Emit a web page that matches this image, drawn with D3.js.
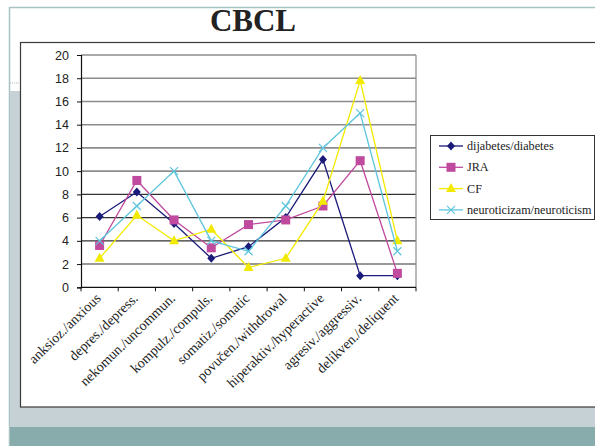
<!DOCTYPE html>
<html>
<head>
<meta charset="utf-8">
<script src="https://cdn.jsdelivr.net/npm/d3@7"></script>
<style>
  html, body { margin: 0; padding: 0; background: #fff; }
  svg { display: block; }
</style>
</head>
<body>
<svg id="chart" width="595" height="446"></svg>
<script>
// CBCL subscale scores by group
const categories = [
  "anksioz./anxious", "depres./depress.", "nekomun./uncommun.", "kompulz./compuls.",
  "somatiz./somatic", "povučen./withdrowal", "hiperaktiv./hyperactive",
  "agresiv./aggressiv.", "delikven./deliquent"
];
const diabetes    = [6.1, 8.2, 5.5, 2.5, 3.5, 6.0, 11.0, 1.0, 1.0];
const jra         = [3.6, 9.2, 5.8, 3.4, 5.4, 5.8, 7.0, 10.9, 1.2];
const cf          = [2.5, 6.2, 4.0, 5.0, 1.7, 2.5, 7.4, 17.8, 4.0];
const neuroticism = [4.0, 7.0, 10.0, 4.0, 3.1, 7.0, 12.0, 15.0, 3.1];
const yTicks = [0, 2, 4, 6, 8, 10, 12, 14, 16, 18, 20];
const seriesNames = ["dijabetes/diabetes", "JRA", "CF", "neuroticizam/neuroticism"];

const series = [
  { name: seriesNames[0], values: diabetes,    color: "#1a1a7a", marker: "diamond" },
  { name: seriesNames[1], values: jra,         color: "#c04a9e", marker: "square" },
  { name: seriesNames[2], values: cf,          color: "#f2ea00", marker: "triangle" },
  { name: seriesNames[3], values: neuroticism, color: "#5ec6dc", marker: "cross" }
];

const svg = d3.select("#chart");

// slide decoration
svg.append("line").attr("x1", 9.5).attr("x2", 595).attr("y1", 7.5).attr("y2", 7.5)
  .attr("stroke", "#a9c2c2").attr("stroke-width", 1.5);
svg.append("line").attr("x1", 9.5).attr("x2", 9.5).attr("y1", 7).attr("y2", 446)
  .attr("stroke", "#a9c2c2").attr("stroke-width", 1.5);
svg.append("line").attr("x1", 10).attr("x2", 20).attr("y1", 83).attr("y2", 83)
  .attr("stroke", "#9fbcbc").attr("stroke-dasharray", "1,1");
svg.append("rect").attr("x", 10).attr("y", 91).attr("width", 10).attr("height", 336).attr("fill", "#c6d1d6");
svg.append("rect").attr("x", 10).attr("y", 407).attr("width", 585).attr("height", 20).attr("fill", "#c6d1d6");
svg.append("rect").attr("x", 10).attr("y", 427).attr("width", 585).attr("height", 19).attr("fill", "#88abab");

// chart frame
svg.append("rect").attr("x", 20.5).attr("y", 42.5).attr("width", 600).attr("height", 364.5)
  .attr("fill", "#fff").attr("stroke", "#3a3a3a").attr("stroke-width", 1.2);

// title
svg.append("text").attr("x", 253).attr("y", 30.5).attr("text-anchor", "middle")
  .attr("font-family", "'Liberation Serif', 'Times New Roman', serif")
  .attr("font-weight", "bold").attr("font-size", 31).attr("fill", "#222")
  .text("CBCL");

const plot = { left: 81, right: 416, top: 55, bottom: 287.3 };

const x = d3.scaleBand().domain(categories).range([plot.left, plot.right]);
const y = d3.scaleLinear().domain([0, 20]).range([plot.bottom, plot.top]);
const cx = c => x(c) + x.bandwidth() / 2;

// gridlines
svg.append("g").selectAll("line").data(yTicks.filter(d => d > 0)).join("line")
  .attr("x1", plot.left).attr("x2", plot.right)
  .attr("y1", d => y(d)).attr("y2", d => y(d))
  .attr("stroke", d => d >= 10 ? "#8c8c8c" : "#333")
  .attr("stroke-width", d => d >= 10 ? 1.6 : 1.1);
// right edge of plot area
svg.append("line").attr("x1", plot.right).attr("x2", plot.right)
  .attr("y1", plot.top).attr("y2", plot.bottom).attr("stroke", "#8c8c8c").attr("stroke-width", 1.2);

// y axis
const yAxis = svg.append("g").attr("transform", `translate(${plot.left},0)`)
  .call(d3.axisLeft(y).tickValues(yTicks).tickSize(4).tickPadding(8));
yAxis.select(".domain").attr("stroke", "#111").attr("stroke-width", 1.2);
yAxis.selectAll(".tick line").attr("stroke", "#111");
yAxis.selectAll("text").attr("font-family", "'Liberation Sans', Arial, sans-serif")
  .attr("font-size", 12.5).attr("fill", "#222");

// x axis line with ticks at category boundaries
svg.append("line").attr("x1", plot.left).attr("x2", plot.right)
  .attr("y1", plot.bottom).attr("y2", plot.bottom).attr("stroke", "#111").attr("stroke-width", 1.2);
const boundaries = categories.map(c => x(c)).concat([x(categories[categories.length - 1]) + x.bandwidth()]);
svg.append("g").selectAll("line").data(boundaries).join("line")
  .attr("x1", d => d).attr("x2", d => d)
  .attr("y1", plot.bottom).attr("y2", plot.bottom + 4).attr("stroke", "#111");

// category labels, rotated
svg.append("g").selectAll("text").data(categories).join("text")
  .attr("transform", d => `translate(${cx(d) + 2},${plot.bottom + 12}) rotate(-44)`)
  .attr("text-anchor", "end")
  .attr("font-family", "'Liberation Serif', 'Times New Roman', serif")
  .attr("font-size", 14).attr("fill", "#222")
  .text(d => d);

// marker shapes
function drawMarker(g, type, color) {
  if (type === "diamond") {
    g.append("path").attr("d", "M0,-4.5L4,0L0,4.5L-4,0Z").attr("fill", color);
  } else if (type === "square") {
    g.append("rect").attr("x", -4.5).attr("y", -4.5).attr("width", 9).attr("height", 9).attr("fill", color);
  } else if (type === "triangle") {
    g.append("path").attr("d", "M0,-5.5L5,3.5L-5,3.5Z").attr("fill", color);
  } else {
    g.append("path").attr("d", "M-4,-4L4,4M-4,4L4,-4").attr("stroke", color).attr("stroke-width", 1.2);
  }
}

const line = d3.line().x(d => cx(d.c)).y(d => y(d.v));
series.forEach(s => {
  const pts = categories.map((c, i) => ({ c, v: s.values[i] }));
  svg.append("path").datum(pts).attr("d", line)
    .attr("fill", "none").attr("stroke", s.color).attr("stroke-width", 1.3);
  svg.append("g").selectAll("g").data(pts).join("g")
    .attr("transform", d => `translate(${cx(d.c)},${y(d.v)})`)
    .each(function () { drawMarker(d3.select(this), s.marker, s.color); });
});

// legend
const legend = svg.append("g");
legend.append("rect").attr("x", 430.5).attr("y", 135.5).attr("width", 164).attr("height", 84)
  .attr("fill", "#fff").attr("stroke", "#333").attr("stroke-width", 1);
series.forEach((s, i) => {
  const ly = 146 + i * 21.3;
  const g = legend.append("g");
  g.append("line").attr("x1", 439).attr("x2", 463).attr("y1", ly).attr("y2", ly)
    .attr("stroke", s.color).attr("stroke-width", 1.3);
  drawMarker(g.append("g").attr("transform", `translate(451,${ly})`), s.marker, s.color);
  g.append("text").attr("x", 467).attr("y", ly + 4)
    .attr("font-family", "'Liberation Serif', 'Times New Roman', serif")
    .attr("font-size", 12.2).attr("fill", "#222").text(s.name);
});
</script>
</body>
</html>
